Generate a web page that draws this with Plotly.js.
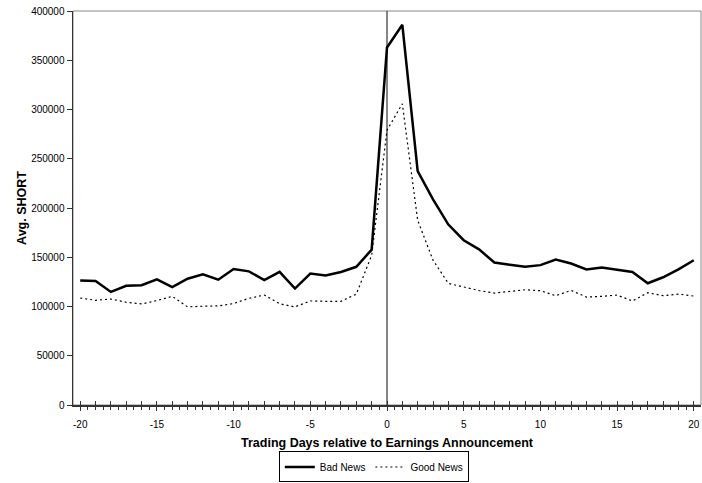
<!DOCTYPE html>
<html>
<head>
<meta charset="utf-8">
<script src="https://cdn.plot.ly/plotly-3.0.1.min.js"></script>
<style>
html,body{margin:0;padding:0;background:#fff;}
#chart{width:702px;height:483px;}
</style>
</head>
<body>
<div id="chart"></div>
<script>
const days = [-20,-19,-18,-17,-16,-15,-14,-13,-12,-11,-10,-9,-8,-7,-6,-5,-4,-3,-2,-1,0,1,2,3,4,5,6,7,8,9,10,11,12,13,14,15,16,17,18,19,20];
const badNews = [126500,125800,114800,121000,121600,127600,119800,128200,132600,127200,138000,135700,126800,135200,118200,133400,131400,135000,140300,157700,363000,386000,237500,208800,183200,167300,158000,144600,142400,140400,142000,147700,143700,137700,139700,137700,135000,123600,129700,137700,147000];
const goodNews = [108600,106300,107600,104300,102600,106000,110300,99600,100300,100600,103000,108300,111600,102800,99600,105600,105300,105300,112600,152000,279000,305800,187500,147000,123400,119800,116200,113600,115300,117000,116000,111000,116300,109600,110300,111600,105600,114000,111000,112600,110600];
const yTicks = [0,50000,100000,150000,200000,250000,300000,350000,400000];
const xTicks = [-20,-15,-10,-5,0,5,10,15,20];

const FONT = "Liberation Sans, Arial, sans-serif";

const traces = [
  {x: days, y: badNews, name: 'Bad News', type: 'scatter', mode: 'lines',
   line: {color: '#000000', width: 2.5}},
  {x: days, y: goodNews, name: 'Good News', type: 'scatter', mode: 'lines',
   line: {color: '#000000', width: 1.2, dash: '2px,3px'}}
];

const layout = {
  width: 702, height: 483,
  margin: {l: 73, r: 1, t: 11, b: 73},
  paper_bgcolor: '#ffffff', plot_bgcolor: '#ffffff',
  font: {family: FONT, size: 10, color: '#000'},
  showlegend: true,
  legend: {orientation: 'h', x: 0.479, xanchor: 'center', y: -0.118, yanchor: 'top',
           bordercolor: '#000', borderwidth: 1, font: {size: 10, family: FONT},
           itemwidth: 30, tracegroupgap: 0},
  xaxis: {
    range: [-20.47, 20.47], tickvals: xTicks, ticktext: xTicks.map(String),
    showgrid: false, zeroline: false, showline: true, linecolor: '#333', linewidth: 1.5,
    ticks: 'outside', ticklen: 4, tickcolor: '#333', tickwidth: 1,
    ticklabelstandoff: 5,
    minor: {dtick: 0.5, tick0: 0, ticks: 'outside', ticklen: 3, tickcolor: '#333', showgrid: false},
    tickfont: {size: 10, family: FONT},
    title: {text: '<b>Trading Days relative to Earnings Announcement</b>', font: {size: 12.5, family: FONT}, standoff: 9}
  },
  xaxis2: {
    overlaying: 'x', range: [-20.47, 20.47], dtick: 1, tick0: 0,
    ticks: 'inside', ticklen: 4, tickcolor: '#333', showticklabels: false,
    showgrid: false, zeroline: false, showline: false, side: 'bottom', anchor: 'y'
  },
  yaxis: {
    range: [0, 400000], tickvals: yTicks, ticktext: yTicks.map(String),
    showgrid: false, zeroline: false, showline: true, linecolor: '#333', linewidth: 1.5,
    ticks: 'outside', ticklen: 5, tickcolor: '#333',
    tickfont: {size: 10, family: FONT},
    title: {text: '<b>Avg. SHORT</b>', font: {size: 12.5, family: FONT}, standoff: 2}
  },
  shapes: [
    {type: 'rect', xref: 'paper', yref: 'paper', x0: 0, x1: 1, y0: 0, y1: 1,
     line: {color: '#888', width: 1}, layer: 'below'},
    {type: 'line', xref: 'x', yref: 'paper', x0: 0, x1: 0, y0: 0, y1: 1,
     line: {color: '#333', width: 1.2}, layer: 'below'}
  ]
};

traces.push({x: [days[0]], y: [null], xaxis: 'x2', yaxis: 'y', showlegend: false, hoverinfo: 'skip', mode: 'lines'});

Plotly.newPlot('chart', traces, layout, {staticPlot: true, displayModeBar: false});
</script>
</body>
</html>
